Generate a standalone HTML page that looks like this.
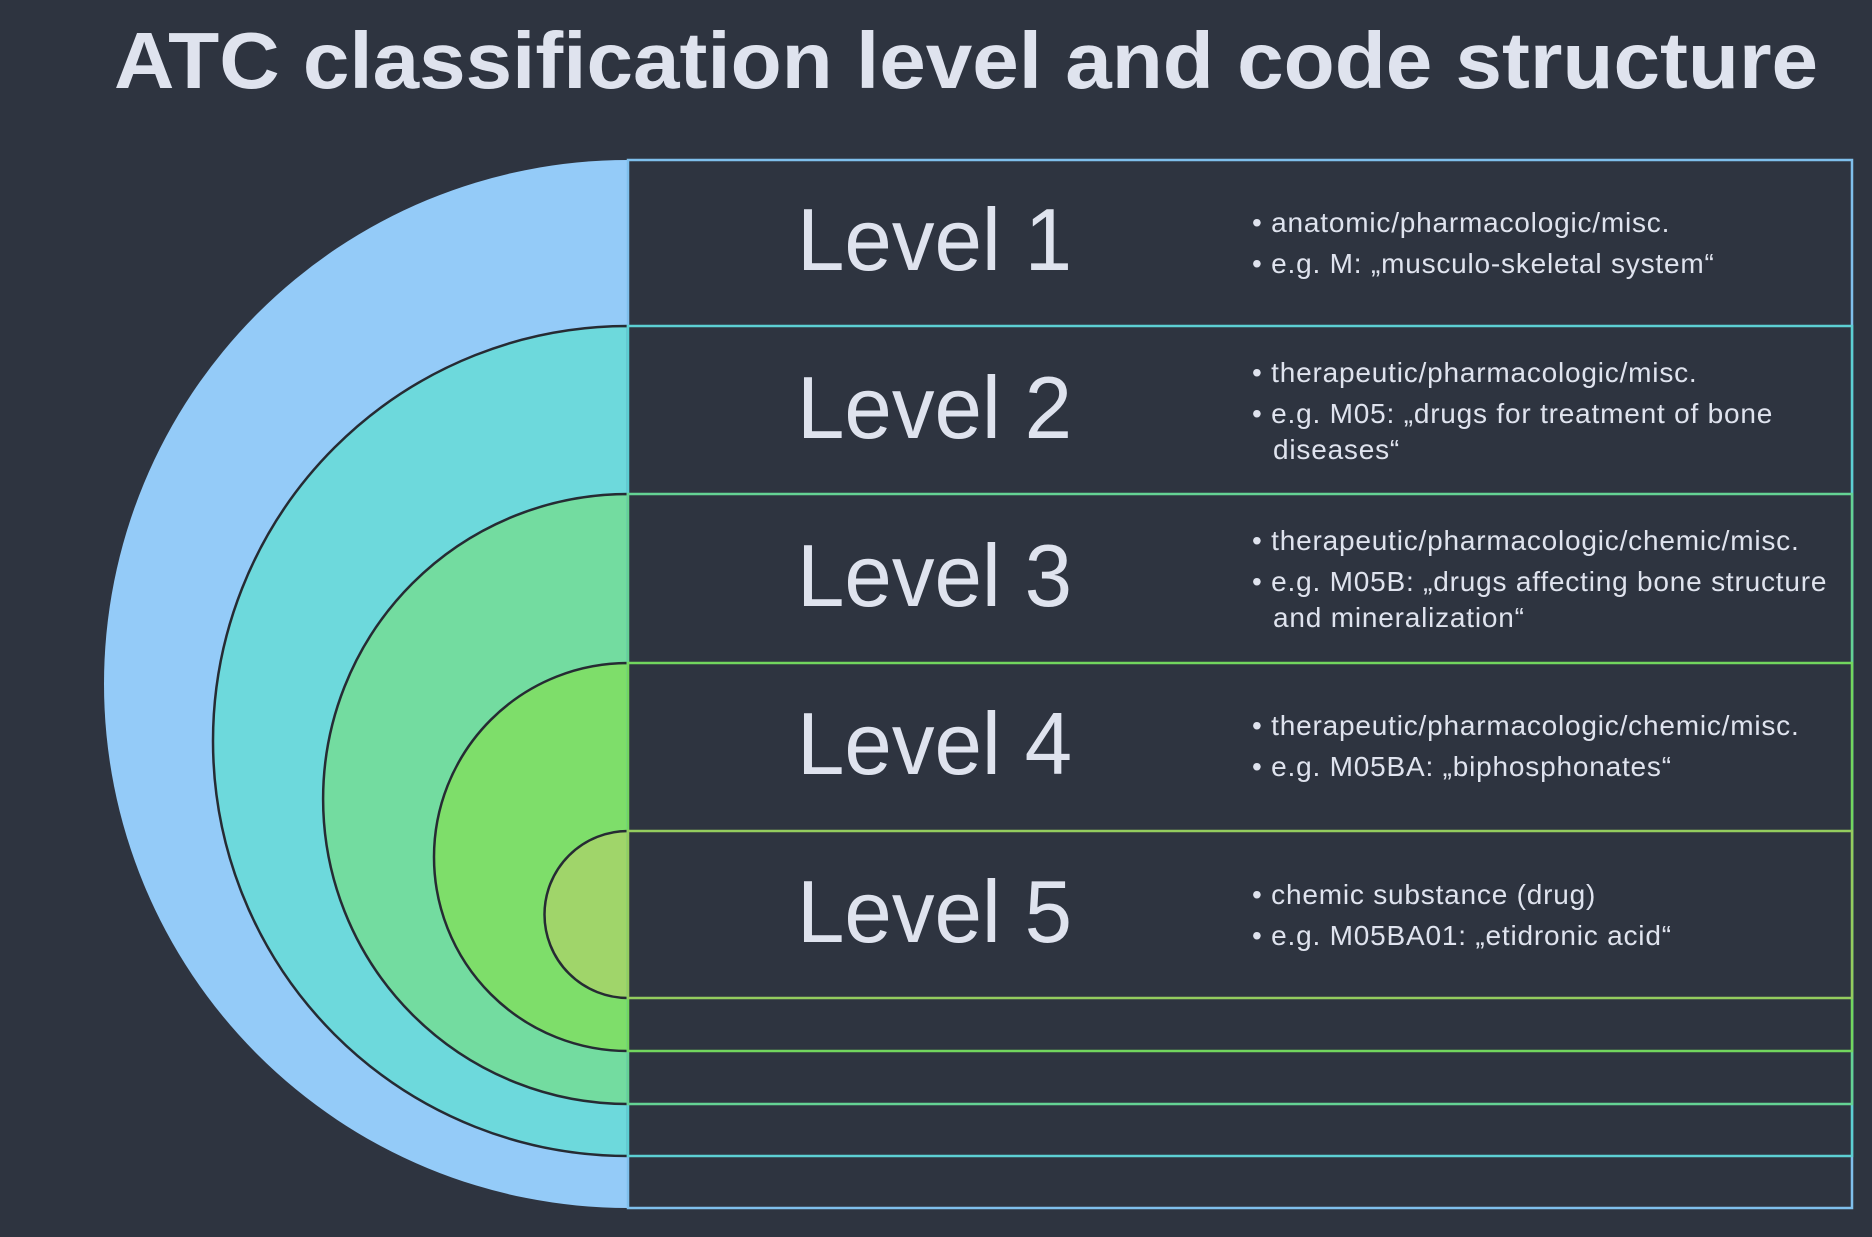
<!DOCTYPE html>
<html><head><meta charset="utf-8"><style>
html,body{margin:0;padding:0;background:#2e3440;}
body{width:1872px;height:1232px;overflow:hidden;}
text{font-family:"Liberation Sans",sans-serif;fill:#dfe3ee;}
</style></head><body>
<svg width="1872" height="1232" viewBox="0 0 1872 1232" xmlns="http://www.w3.org/2000/svg">
<rect width="1872" height="1232" fill="#2e3440"/>
<text x="966" y="88" text-anchor="middle" font-size="80" font-weight="bold" textLength="1704" lengthAdjust="spacingAndGlyphs">ATC classification level and code structure</text>
<path d="M628,160 A524,524 0 0 0 628,1208 Z" fill="#94cbf8"/>
<path d="M628,326 A415,415 0 0 0 628,1156 Z" fill="#6dd9dc" stroke="#262b33" stroke-width="2.5"/>
<path d="M628,494 A305,305 0 0 0 628,1104 Z" fill="#73dca0" stroke="#262b33" stroke-width="2.5"/>
<path d="M628,663 A194,194 0 0 0 628,1051 Z" fill="#7ede6a" stroke="#262b33" stroke-width="2.5"/>
<path d="M628,831 A83.5,83.5 0 0 0 628,998 Z" fill="#a0d56a" stroke="#262b33" stroke-width="2.5"/>
<g fill="#2e3440" stroke-width="2.5">
<rect x="628" y="160" width="1224" height="1048" stroke="#7fbfec"/>
<rect x="628" y="326" width="1224" height="830" stroke="#5ccfd3"/>
<rect x="628" y="494" width="1224" height="610" stroke="#64d294"/>
<rect x="628" y="663" width="1224" height="388" stroke="#72d65e"/>
<rect x="628" y="831" width="1224" height="167" stroke="#94cc5e"/>
</g>
<g font-size="88">
<text x="797" y="270" textLength="275" lengthAdjust="spacingAndGlyphs">Level 1</text>
<text x="797" y="438" textLength="275" lengthAdjust="spacingAndGlyphs">Level 2</text>
<text x="797" y="606" textLength="275" lengthAdjust="spacingAndGlyphs">Level 3</text>
<text x="797" y="774" textLength="275" lengthAdjust="spacingAndGlyphs">Level 4</text>
<text x="797" y="942" textLength="275" lengthAdjust="spacingAndGlyphs">Level 5</text>
</g>
<g font-size="28" letter-spacing="0.8">
<text x="1252" y="232">• anatomic/pharmacologic/misc.</text>
<text x="1252" y="273">• e.g. M: „musculo-skeletal system“</text>
<text x="1252" y="382">• therapeutic/pharmacologic/misc.</text>
<text x="1252" y="423">• e.g. M05: „drugs for treatment of bone</text>
<text x="1273" y="459">diseases“</text>
<text x="1252" y="550">• therapeutic/pharmacologic/chemic/misc.</text>
<text x="1252" y="591">• e.g. M05B: „drugs affecting bone structure</text>
<text x="1273" y="627">and mineralization“</text>
<text x="1252" y="735">• therapeutic/pharmacologic/chemic/misc.</text>
<text x="1252" y="776">• e.g. M05BA: „biphosphonates“</text>
<text x="1252" y="904">• chemic substance (drug)</text>
<text x="1252" y="945">• e.g. M05BA01: „etidronic acid“</text>
</g>
</svg>
</body></html>
